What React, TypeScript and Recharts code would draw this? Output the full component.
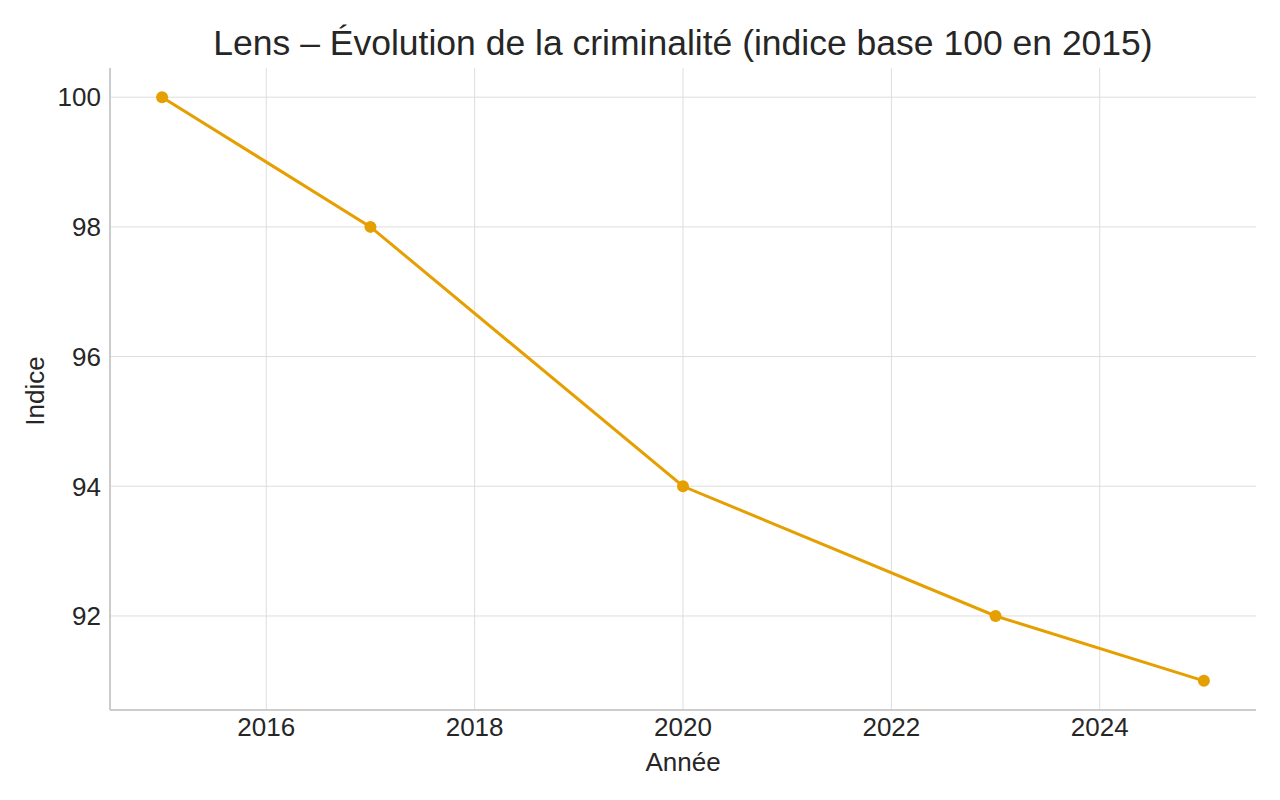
import React from 'react';
import { LineChart, Line, XAxis, YAxis, CartesianGrid } from 'recharts';

const years = [2015, 2017, 2020, 2023, 2025];
const indexValues = [100, 98, 94, 92, 91];
const xTicks = [2016, 2018, 2020, 2022, 2024];
const yTicks = [92, 94, 96, 98, 100];

const data = years.map((year, i) => ({ year, value: indexValues[i] }));

const font = '"Liberation Sans", Arial, sans-serif';
const textColor = '#262626';

export default function App() {
  return (
    <div style={{ position: 'absolute', left: 0, top: 0, width: 1280, height: 800, background: '#fff', fontFamily: font }}>
      <div
        style={{
          position: 'absolute',
          left: 110,
          width: 1146,
          top: 21,
          textAlign: 'center',
          fontSize: 35.5,
          lineHeight: '44px',
          color: textColor,
        }}
      >
        Lens – Évolution de la criminalité (indice base 100 en 2015)
      </div>
      <LineChart
        width={1280}
        height={800}
        data={data}
        margin={{ top: 68, right: 24, bottom: 0, left: 0 }}
      >
        <CartesianGrid stroke="#dddddd" strokeWidth={1} syncWithTicks />
        <XAxis
          dataKey="year"
          type="number"
          domain={[2014.5, 2025.5]}
          ticks={xTicks}
          allowDataOverflow
          height={90}
          tickLine={false}
          tickSize={0}
          tickMargin={8}
          axisLine={{ stroke: '#cccccc', strokeWidth: 2 }}
          tick={{ fill: textColor, fontSize: 26, fontFamily: font }}
        />
        <YAxis
          type="number"
          domain={[90.55, 100.45]}
          ticks={yTicks}
          allowDataOverflow
          width={110}
          tickLine={false}
          tickSize={0}
          tickMargin={9}
          axisLine={{ stroke: '#cccccc', strokeWidth: 2 }}
          tick={{ fill: textColor, fontSize: 26, fontFamily: font }}
        />
        <Line
          dataKey="value"
          stroke="#E69F00"
          strokeWidth={3}
          dot={{ r: 6, fill: '#E69F00', stroke: 'none' }}
          activeDot={false}
          isAnimationActive={false}
        />
      </LineChart>
      <div
        style={{
          position: 'absolute',
          left: 110,
          width: 1146,
          top: 747,
          textAlign: 'center',
          fontSize: 26,
          lineHeight: '30px',
          color: textColor,
        }}
      >
        Année
      </div>
      <div
        style={{
          position: 'absolute',
          left: 35,
          top: 391,
          transform: 'translate(-50%, -50%) rotate(-90deg)',
          fontSize: 26,
          lineHeight: '30px',
          color: textColor,
          whiteSpace: 'nowrap',
        }}
      >
        Indice
      </div>
    </div>
  );
}
